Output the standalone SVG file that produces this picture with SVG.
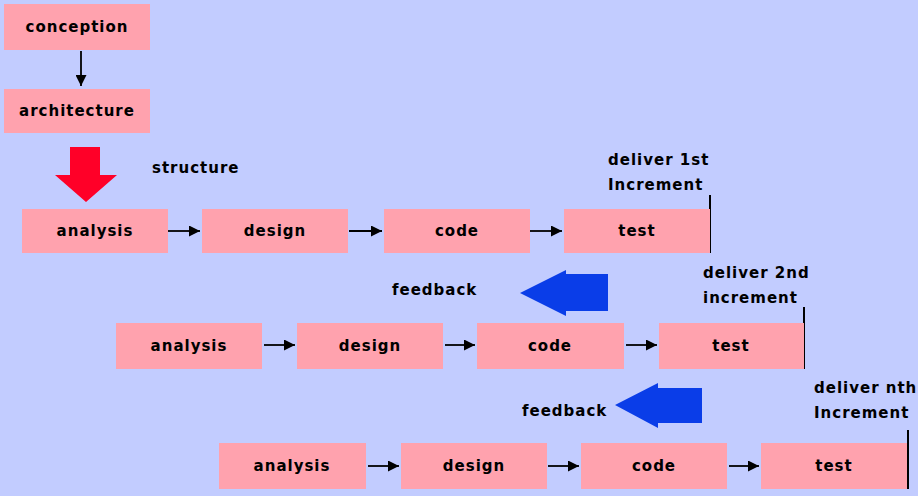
<svg xmlns="http://www.w3.org/2000/svg" width="918" height="496" viewBox="0 0 918 496">
<defs>
<style>
.bg{fill:#C2CCFF}
.box{fill:#FFA2AE}
.t{font-family:"DejaVu Sans","Liberation Sans",sans-serif;font-size:15px;font-weight:bold;letter-spacing:1px;fill:#000;text-anchor:middle;dominant-baseline:central}
.l{font-family:"DejaVu Sans","Liberation Sans",sans-serif;font-size:15px;font-weight:bold;letter-spacing:1px;fill:#000}
.c{stroke:#000;stroke-width:1.8;fill:none}
.bar{stroke:#000;stroke-width:2}
</style>
<marker id="ah" viewBox="0 0 10 10" refX="10" refY="5" markerWidth="12" markerHeight="11" markerUnits="userSpaceOnUse" orient="auto">
<path d="M0,0 L10,5 L0,10 Z" fill="#000"/>
</marker>
</defs>
<rect class="bg" x="0" y="0" width="918" height="496"/>

<g id="connectors">
<line class="c" x1="81" y1="51" x2="81" y2="86" marker-end="url(#ah)"/>
<line class="c" x1="168" y1="231" x2="200" y2="231" marker-end="url(#ah)"/>
<line class="c" x1="349" y1="231" x2="382" y2="231" marker-end="url(#ah)"/>
<line class="c" x1="530" y1="231" x2="562" y2="231" marker-end="url(#ah)"/>
<line class="c" x1="264" y1="345" x2="295" y2="345" marker-end="url(#ah)"/>
<line class="c" x1="445" y1="345" x2="475" y2="345" marker-end="url(#ah)"/>
<line class="c" x1="626" y1="345" x2="657" y2="345" marker-end="url(#ah)"/>
<line class="c" x1="368" y1="466" x2="399" y2="466" marker-end="url(#ah)"/>
<line class="c" x1="548" y1="466" x2="579" y2="466" marker-end="url(#ah)"/>
<line class="c" x1="729" y1="466" x2="759" y2="466" marker-end="url(#ah)"/>
<line class="bar" x1="710" y1="195" x2="710" y2="253"/>
<line class="bar" x1="804" y1="307" x2="804" y2="369"/>
<line class="bar" x1="908" y1="430" x2="908" y2="489"/>
</g>

<g id="conception"><rect class="box" x="4" y="4" width="146" height="46"/><text class="t" x="77" y="27">conception</text></g>
<g id="architecture"><rect class="box" x="4" y="89" width="146" height="44"/><text class="t" x="77" y="111">architecture</text></g>

<g id="structure-arrow">
<polygon points="70,147 100,147 100,175 117,175 86,202 55,175 70,175" fill="#FF0028"/>
<text class="l" x="152" y="173">structure</text>
</g>

<g id="analysis1"><rect class="box" x="22" y="209" width="146" height="44"/><text class="t" x="95" y="231">analysis</text></g>
<g id="design1"><rect class="box" x="202" y="209" width="146" height="44"/><text class="t" x="275" y="231">design</text></g>
<g id="code1"><rect class="box" x="384" y="209" width="146" height="44"/><text class="t" x="457" y="231">code</text></g>
<g id="test1"><rect class="box" x="564" y="209" width="146" height="44"/><text class="t" x="637" y="231">test</text></g>
<g id="deliver1"><text class="l" x="608" y="165">deliver 1st</text><text class="l" x="608" y="190">Increment</text></g>

<g id="feedback1">
<polygon points="520,293 566,270 566,274 608,274 608,311 566,311 566,316" fill="#0A3DE8"/>
<text class="l" x="392" y="295">feedback</text>
</g>

<g id="analysis2"><rect class="box" x="116" y="323" width="146" height="46"/><text class="t" x="189" y="346">analysis</text></g>
<g id="design2"><rect class="box" x="297" y="323" width="146" height="46"/><text class="t" x="370" y="346">design</text></g>
<g id="code2"><rect class="box" x="477" y="323" width="147" height="46"/><text class="t" x="550" y="346">code</text></g>
<g id="test2"><rect class="box" x="659" y="323" width="145" height="46"/><text class="t" x="731" y="346">test</text></g>
<g id="deliver2"><text class="l" x="703" y="278">deliver 2nd</text><text class="l" x="703" y="303">increment</text></g>

<g id="feedback2">
<polygon points="615,405 658,383 658,388 702,388 702,423 658,423 658,428" fill="#0A3DE8"/>
<text class="l" x="522" y="416">feedback</text>
</g>

<g id="analysis3"><rect class="box" x="219" y="443" width="147" height="46"/><text class="t" x="292" y="466">analysis</text></g>
<g id="design3"><rect class="box" x="401" y="443" width="146" height="46"/><text class="t" x="474" y="466">design</text></g>
<g id="code3"><rect class="box" x="581" y="443" width="146" height="46"/><text class="t" x="654" y="466">code</text></g>
<g id="test3"><rect class="box" x="761" y="443" width="146" height="46"/><text class="t" x="834" y="466">test</text></g>
<g id="deliver3"><text class="l" x="814" y="393">deliver nth</text><text class="l" x="814" y="418">Increment</text></g>
</svg>
